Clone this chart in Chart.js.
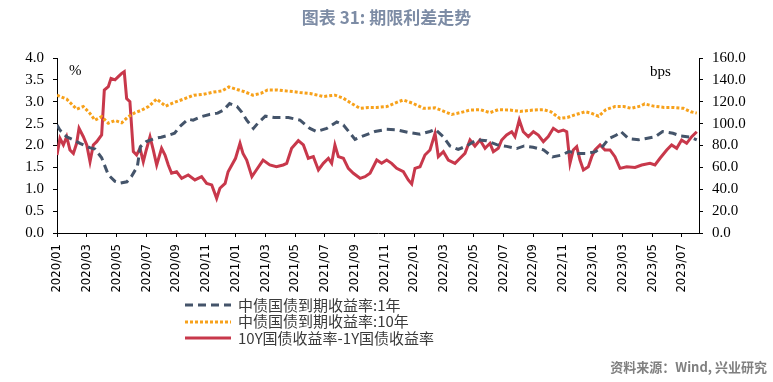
<!DOCTYPE html>
<html><head><meta charset="utf-8">
<script src="https://cdn.jsdelivr.net/npm/chart.js@4/dist/chart.umd.min.js"></script>
<style>
html,body{margin:0;padding:0;background:#fff;width:773px;height:382px;overflow:hidden;}
#wrap{position:relative;width:773px;height:382px;}
#c{position:absolute;left:0;top:0;}
#title{position:absolute;left:0;top:4px;width:773px;text-align:center;font:bold 17px "Noto Sans CJK SC","Noto Sans",sans-serif;color:#7d8ca5;}
#src{position:absolute;right:6px;top:357px;font:bold 13px "Noto Sans CJK SC","Noto Sans",sans-serif;color:#808080;}
#legend{position:absolute;left:185px;top:297px;font:15px "Noto Sans CJK SC",sans-serif;color:#3a3a3a;}
.row{height:16.4px;line-height:16.4px;display:flex;align-items:center;white-space:nowrap;}
.row svg{margin-right:7px;}
.unit{position:absolute;font:15px "Liberation Serif",serif;color:#000;}
</style></head>
<body><div id="wrap">
<canvas id="c" width="773" height="382"></canvas>
<div id="title">图表 31: 期限利差走势</div>
<div class="unit" style="left:69px;top:62px;">%</div>
<div class="unit" style="left:650px;top:63px;">bps</div>
<div id="legend"></div>
<div id="src">资料来源：Wind, 兴业研究</div>
</div>
<script>
// ---- data (x = months since 2020/01) ----
const tickPos = [0,2,4,6,8,10,12,14,16,18,20,22,24,26,28,30,32,34,36,38,40,42];
const tickLabels = ['2020/01','2020/03','2020/05','2020/07','2020/09','2020/11','2021/01','2021/03','2021/05','2021/07','2021/09','2021/11','2022/01','2022/03','2022/05','2022/07','2022/09','2022/11','2023/01','2023/03','2023/05','2023/07'];

const name1Y = '中债国债到期收益率:1年';
const name10Y = '中债国债到期收益率:10年';
const nameSpread = '10Y国债收益率-1Y国债收益率';

const t1Y = [0,0.2,0.65,1.1,1.55,2.2,2.55,3.0,3.45,3.9,4.25,4.7,5.0,5.4,5.6,6.0,6.55,7.0,7.55,7.9,8.25,8.8,9.15,9.7,10.25,10.8,11.2,11.6,12.1,12.4,12.75,13.2,13.5,14.0,14.6,14.99,15.55,16.33,17.0,17.45,18.13,18.8,19.25,19.7,20.03,20.59,21.37,22.16,22.83,23.61,24.4,25.07,25.41,25.97,26.41,26.97,27.53,28.2,28.88,29.55,30.22,30.9,31.4,32.0,32.7,33.3,33.9,34.4,35.0,35.6,36.2,36.7,37.1,37.6,37.9,38.4,39.1,39.6,40.2,40.7,41.4,41.9,42.6,43.0];
const v1Y = [2.47,2.35,2.20,2.13,2.05,1.95,1.92,1.72,1.33,1.18,1.14,1.17,1.29,1.52,1.97,2.09,2.16,2.19,2.24,2.28,2.43,2.60,2.58,2.66,2.71,2.74,2.81,2.96,2.89,2.77,2.58,2.39,2.51,2.67,2.64,2.64,2.64,2.58,2.39,2.32,2.39,2.54,2.47,2.28,2.14,2.22,2.32,2.37,2.36,2.30,2.26,2.32,2.37,2.20,1.99,1.91,1.99,2.13,2.11,2.02,1.98,1.93,1.99,1.96,1.90,1.74,1.78,1.86,1.82,1.82,1.86,1.99,2.16,2.24,2.32,2.16,2.13,2.16,2.20,2.32,2.28,2.22,2.19,2.13];

const t10Y = [0,0.65,1.32,1.77,2.2,2.55,3.0,3.45,3.9,4.35,4.8,5.25,5.7,6.15,6.7,7.3,7.85,8.5,9.2,9.85,10.5,11.1,11.55,12.1,12.6,13.15,13.7,14.15,14.8,15.3,15.89,16.33,17.0,17.9,18.68,19.25,19.8,20.37,20.93,21.49,22.16,22.94,23.28,23.95,24.62,25.41,26.08,26.53,27.09,27.76,28.43,29.1,29.66,30.45,31.12,32.0,32.7,33.2,33.8,34.3,34.8,35.5,35.9,36.4,36.9,37.5,38.1,38.6,39.2,39.5,40.1,40.8,41.4,42.1,42.6,43.0];
const v10Y = [3.15,3.06,2.83,2.89,2.74,2.58,2.66,2.51,2.57,2.52,2.66,2.75,2.81,2.89,3.06,2.90,2.98,3.06,3.15,3.17,3.22,3.25,3.34,3.28,3.23,3.15,3.19,3.27,3.27,3.25,3.23,3.21,3.19,3.12,3.15,3.08,2.96,2.85,2.87,2.87,2.89,3.00,3.04,2.96,2.85,2.86,2.77,2.71,2.75,2.81,2.82,2.75,2.82,2.81,2.78,2.81,2.82,2.77,2.62,2.64,2.70,2.77,2.74,2.67,2.82,2.89,2.89,2.85,2.90,2.95,2.90,2.87,2.87,2.85,2.77,2.74];

const tSpread = [0,0.2,0.43,0.65,0.87,1.1,1.32,1.48,1.77,2.0,2.22,2.44,2.67,3.0,3.18,3.45,3.63,3.9,4.12,4.35,4.52,4.68,4.9,5.13,5.35,5.58,5.8,6.0,6.25,6.47,6.7,7.03,7.26,7.48,7.7,8.04,8.38,8.82,9.27,9.72,10.06,10.4,10.73,10.95,11.3,11.5,12.0,12.3,12.5,12.75,13.1,13.4,13.85,14.3,14.75,15.2,15.44,15.77,16.22,16.56,16.89,17.23,17.57,17.9,18.24,18.46,18.68,18.91,19.25,19.58,19.92,20.37,20.7,21.04,21.49,21.82,22.16,22.49,22.83,23.28,23.61,23.84,24.06,24.4,24.73,25.07,25.41,25.63,25.97,26.3,26.75,27.09,27.42,27.76,28.09,28.43,28.77,29.1,29.33,29.66,29.89,30.22,30.56,30.78,31.07,31.34,31.68,32.02,32.35,32.69,33.02,33.36,33.7,34.03,34.26,34.48,34.7,34.93,35.15,35.38,35.71,35.94,36.16,36.5,36.83,37.17,37.5,37.84,38.29,38.85,39.3,39.86,40.19,40.53,40.98,41.31,41.65,41.98,42.32,42.66,43.0];
const vSpread = [71.3,86.6,80.5,88,75.9,72.8,82,95.7,88,80.5,65.2,80.5,83.5,89.6,130.7,133.8,141.4,140,143,146,147.5,123,120,74.4,71.3,77.4,65.2,75.9,88,75.9,62.2,77.4,71.3,62.2,54.6,56,50,53,48.5,51.5,45.4,44,31.7,40.9,45.4,56,68.3,82,72.8,66.7,51.5,57.6,66.7,62.2,60.6,62.2,63.7,77.4,84.4,80.5,68.3,69.8,57.6,63.7,68.3,63.7,80.5,69.8,68.3,59.1,54.6,50,51.5,54.6,66.7,63.7,66.7,63.7,59.1,56,48.5,44.8,59.1,60.6,71.3,75.9,91.1,69.8,74.4,66.7,63.7,68.3,72.8,85,79.5,85,77.4,82,74.4,77.4,85,89.6,92.6,88.1,103.3,92.6,88.1,92.6,89.6,83.5,88.1,95.7,92.6,94.1,92.6,63.7,75.9,78.9,66.7,57.6,60.6,69.8,75.9,80.5,75.9,75.9,69.8,59.1,60.6,60,62.2,63.7,62.2,68.3,75.9,80.5,77.4,85,82,88.1,92.6];

const BLUE = '#44546a', ORANGE = '#f7a11a', RED = '#c8384b';
const pts = (t, v) => t.map((x, i) => ({x, y: v[i]}));

const series = [
  {label: name1Y, data: pts(t1Y, v1Y), borderColor: BLUE, borderDash: [8,5], yAxisID: 'yL'},
  {label: name10Y, data: pts(t10Y, v10Y), borderColor: ORANGE, borderDash: [3,2], yAxisID: 'yL'},
  {label: nameSpread, data: pts(tSpread, vSpread), borderColor: RED, borderDash: [], yAxisID: 'yR'}
];

// legend (HTML)
const leg = document.getElementById('legend');
series.forEach(s => {
  const row = document.createElement('div'); row.className = 'row';
  const dash = s.borderDash.length ? `stroke-dasharray="${s.borderDash.join(',')}"` : '';
  row.innerHTML = `<svg width="46" height="8"><line x1="0" y1="4" x2="46" y2="4" stroke="${s.borderColor}" stroke-width="3" ${dash}/></svg><span>${s.label}</span>`;
  leg.appendChild(row);
});

const tickFontY = {family: '"Liberation Serif", "Times New Roman", serif', size: 15};
const axisCommon = {
  grid: {display: true, drawOnChartArea: false, drawTicks: true, tickLength: 4, color: '#000'},
  border: {display: true, color: '#000', width: 1}
};

new Chart(document.getElementById('c'), {
  type: 'line',
  data: {datasets: series.map(s => ({
    label: s.label, data: s.data, borderColor: s.borderColor, borderDash: s.borderDash,
    yAxisID: s.yAxisID, borderWidth: 3, pointRadius: 0, tension: 0, fill: false, borderCapStyle: 'butt'
  }))},
  options: {
    responsive: false, animation: false, maintainAspectRatio: false,
    layout: {padding: {top: 58, bottom: 89, left: 0, right: 0}},
    plugins: {legend: {display: false}, tooltip: {enabled: false}},
    scales: {
      x: {
        type: 'linear', min: 0, max: 43.15,
        ...axisCommon,
        afterBuildTicks: s => { s.ticks = tickPos.map(v => ({value: v})); },
        afterFit: s => { s.height = 60; },
        ticks: {
          autoSkip: false, maxRotation: 90, minRotation: 90, padding: 7, color: '#000',
          font: {family: '"DejaVu Sans Condensed", "DejaVu Sans", sans-serif', size: 13},
          callback: (v, i) => tickLabels[i]
        }
      },
      yL: {
        position: 'left', min: 0, max: 4.0,
        ...axisCommon,
        afterFit: s => { s.width = 57; },
        ticks: {stepSize: 0.5, padding: 9, color: '#000', font: tickFontY, callback: v => Number(v).toFixed(1)}
      },
      yR: {
        position: 'right', min: 0, max: 160,
        ...axisCommon,
        afterFit: s => { s.width = 74; },
        ticks: {stepSize: 20, padding: 9, color: '#000', font: tickFontY, callback: v => Number(v).toFixed(1)}
      }
    }
  }
});
</script>
</body></html>
